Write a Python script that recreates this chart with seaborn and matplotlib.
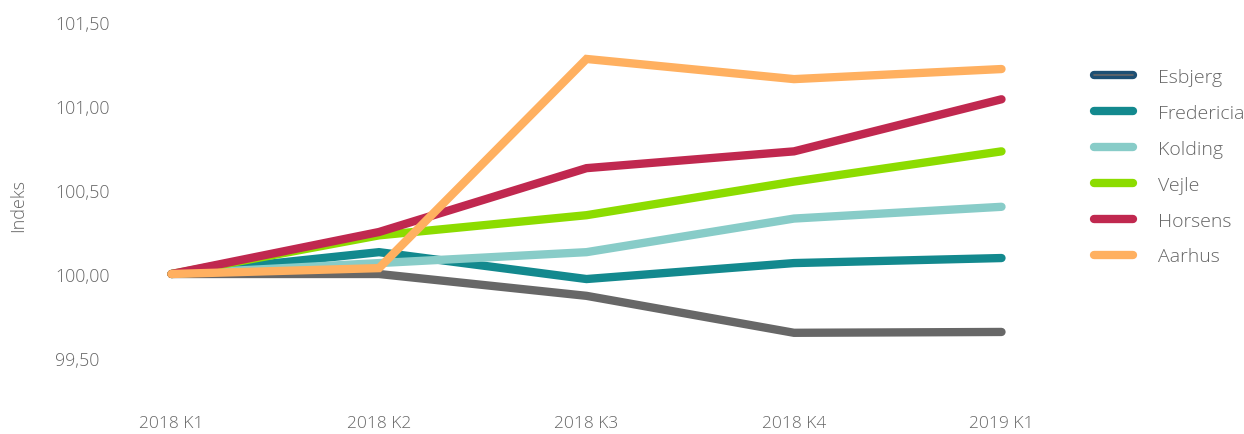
import matplotlib
matplotlib.use("Agg")
import matplotlib.pyplot as plt
import matplotlib.patheffects as pe
from matplotlib.lines import Line2D
import seaborn as sns
import pandas as pd

quarters = ["2018 K1", "2018 K2", "2018 K3", "2018 K4", "2019 K1"]
esbjerg = [100.00, 100.00, 99.87, 99.65, 99.655]
fredericia = [100.00, 100.13, 99.97, 100.065, 100.095]
kolding = [100.00, 100.065, 100.13, 100.33, 100.40]
vejle = [100.00, 100.23, 100.35, 100.55, 100.73]
horsens = [100.00, 100.25, 100.63, 100.73, 101.04]
aarhus = [100.00, 100.035, 101.28, 101.16, 101.22]

cities = ["Esbjerg", "Fredericia", "Kolding", "Vejle", "Horsens", "Aarhus"]
series = [esbjerg, fredericia, kolding, vejle, horsens, aarhus]
line_colors = ["#676767", "#13898e", "#88ccc8", "#8cdc00", "#c0284f", "#ffb060"]
legend_colors = ["#1d4f73", "#13898e", "#88ccc8", "#8cdc00", "#c0284f", "#ffb060"]
yticks = [99.5, 100.0, 100.5, 101.0, 101.5]

rows = []
for c, vals in zip(cities, series):
    for i, v in enumerate(vals):
        rows.append({"x": i, "Kvartal": quarters[i], "By": c, "Indeks": v})
df = pd.DataFrame(rows)

sns.set_theme(style="white")
plt.rcParams["font.family"] = ["Open Sans", "DejaVu Sans"]
text_color = "#666666"

W, H = 1244, 435
fig = plt.figure(figsize=(W / 100, H / 100), dpi=100)
ax = fig.add_axes([130 / W, (H - 401) / H, 913 / W, 390 / H])

sns.lineplot(data=df, x="x", y="Indeks", hue="By", hue_order=cities,
             palette=dict(zip(cities, line_colors)), linewidth=6.0,
             sort=False, legend=False, ax=ax)
for ln in ax.get_lines():
    ln.set_solid_capstyle("round")
    ln.set_solid_joinstyle("miter")

ax.set_xlim(-0.2, 4.2)
ax.set_ylim(99.25, 101.5714)
ax.set_xticks(range(len(quarters)))
ax.set_xticklabels(quarters)
ax.set_yticks(yticks)
ax.set_yticklabels([f"{v:.2f}".replace(".", ",") for v in yticks])
for s in ax.spines.values():
    s.set_visible(False)
ax.tick_params(axis="x", length=0, pad=11, labelsize=12.5, labelcolor=text_color)
ax.tick_params(axis="y", length=0, pad=54, labelsize=12.8, labelcolor=text_color)
for t in ax.get_yticklabels():
    t.set_horizontalalignment("left")
    t.set_fontweight("light")
for t in ax.get_xticklabels():
    t.set_fontweight("light")
ax.set_xlabel("")
ax.set_ylabel("")

fig.text(18 / W, 1 - 206 / H, "Indeks", rotation=90, ha="center", va="center",
         fontsize=13, color=text_color, fontweight="light")

handles = []
for i, (c, col) in enumerate(zip(cities, legend_colors)):
    h = Line2D([0], [0], color=col, linewidth=6.0, solid_capstyle="round")
    if i == 0:
        h = Line2D([0], [0], color=line_colors[0], linewidth=1.2,
                   path_effects=[pe.Stroke(linewidth=6.0, foreground=col, capstyle="round"), pe.Normal()])
    handles.append(h)
leg = fig.legend(handles, cities, loc="upper left", bbox_to_anchor=(1094 / W, 1 - 69 / H),
                 frameon=False, fontsize=14, handlelength=2.0, handletextpad=1.3,
                 labelspacing=0.92, borderaxespad=0, borderpad=0)
for t in leg.get_texts():
    t.set_color(text_color)
    t.set_fontweight("light")

fig.savefig("out.png", dpi=100, facecolor="white")
